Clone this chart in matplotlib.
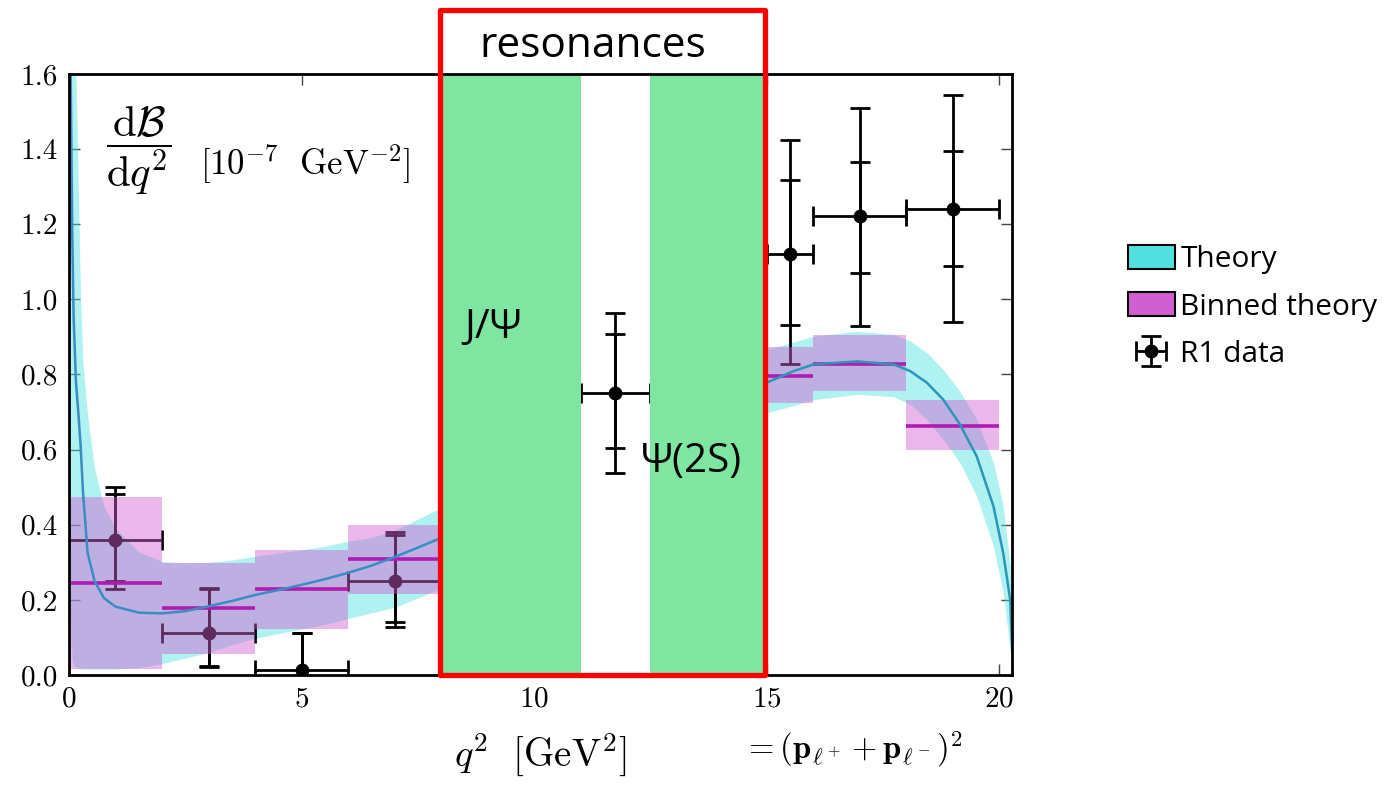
import matplotlib
matplotlib.use("Agg")
import matplotlib.pyplot as plt
import numpy as np
from matplotlib.patches import Patch, Rectangle

plt.rcParams['font.family'] = 'serif'
plt.rcParams['font.serif'] = ['cmr10']
plt.rcParams['mathtext.fontset'] = 'cm'
plt.rcParams['axes.formatter.use_mathtext'] = True

# theory curve, low q^2 region
th_lo_q2 = [0.02, 0.04, 0.07, 0.10, 0.15, 0.20, 0.25, 0.30, 0.40, 0.55, 0.75, 1.0, 1.5, 2.0,
            2.5, 3.0, 3.5, 4.0, 4.5, 5.0, 5.5, 6.0, 6.5, 7.0, 7.5, 8.0, 8.3]
th_lo_mid = [1.80, 1.55, 1.17, 0.95, 0.78, 0.70, 0.61, 0.49, 0.325, 0.25, 0.205, 0.182, 0.166, 0.164,
             0.170, 0.183, 0.197, 0.213, 0.226, 0.240, 0.255, 0.272, 0.291, 0.314, 0.339, 0.365, 0.38]
th_lo_up = [1.90, 1.80, 1.75, 1.70, 1.60, 1.30, 1.00, 0.83, 0.69, 0.55, 0.45, 0.39, 0.328, 0.302,
            0.298, 0.300, 0.306, 0.316, 0.325, 0.333, 0.343, 0.356, 0.366, 0.385, 0.415, 0.445, 0.46]
th_lo_dn = [0.30, 0.10, 0.04, 0.025, 0.02, 0.018, 0.017, 0.016, 0.016, 0.016, 0.016, 0.016, 0.02, 0.03,
            0.045, 0.06, 0.08, 0.098, 0.11, 0.122, 0.135, 0.15, 0.165, 0.18, 0.205, 0.23, 0.245]

# theory curve, high q^2 region
th_hi_q2 = [14.9, 15.0, 15.58, 16.01, 16.94, 17.73, 18.09, 18.45, 18.8, 19.16, 19.52, 19.88, 20.09, 20.24, 20.3]
th_hi_mid = [0.772, 0.778, 0.809, 0.827, 0.835, 0.827, 0.809, 0.778, 0.733, 0.667, 0.582, 0.449, 0.324, 0.20, 0.005]
th_hi_up = [0.862, 0.867, 0.886, 0.902, 0.915, 0.907, 0.889, 0.858, 0.813, 0.755, 0.68, 0.565, 0.449, 0.289, 0.02]
th_hi_dn = [0.692, 0.698, 0.717, 0.733, 0.747, 0.741, 0.72, 0.68, 0.627, 0.565, 0.476, 0.342, 0.218, 0.067, 0.0]

# binned theory
bin_lo = [0, 2, 4, 6, 15, 16, 18]
bin_hi = [2, 4, 6, 8, 16, 18, 20]
bin_mid = [0.245, 0.178, 0.229, 0.309, 0.797, 0.829, 0.664]
bin_up = [0.475, 0.298, 0.333, 0.400, 0.872, 0.904, 0.731]
bin_dn = [0.016, 0.056, 0.122, 0.216, 0.725, 0.755, 0.600]

# R1 data
d_x = [1, 3, 5, 7, 11.75, 15.5, 17, 19]
d_xerr = [1, 1, 1, 1, 0.75, 0.5, 1, 1]
d_y = [0.359, 0.111, 0.012, 0.251, 0.752, 1.120, 1.221, 1.240]
d_stat_lo = [0.250, 0.024, -0.09, 0.142, 0.603, 0.933, 1.069, 1.090]
d_stat_hi = [0.482, 0.229, 0.111, 0.373, 0.907, 1.317, 1.365, 1.395]
d_tot_lo = [0.229, 0.022, -0.09, 0.129, 0.539, 0.827, 0.928, 0.941]
d_tot_hi = [0.501, 0.231, 0.111, 0.380, 0.965, 1.424, 1.509, 1.544]

# resonance vetoes
res_bands = [(8.0, 11.0), (12.5, 15.0)]
res_box = (7.98, 14.97)

theory_col = '#50e0e0'
binned_col = '#d060d0'

fig = plt.figure(figsize=(13.91, 7.89), dpi=100)
ax = fig.add_axes([0.0496, 0.1445, 0.678, 0.7617])

ax.fill_between(th_lo_q2, th_lo_dn, th_lo_up, color=theory_col, alpha=0.45, lw=0, zorder=2)
ax.fill_between(th_hi_q2, th_hi_dn, th_hi_up, color=theory_col, alpha=0.45, lw=0, zorder=2)

# data sits between the theory band and the binned band
d_y = np.array(d_y)
tot_err = [d_y - np.array(d_tot_lo), np.array(d_tot_hi) - d_y]
stat_err = [d_y - np.array(d_stat_lo), np.array(d_stat_hi) - d_y]
eb = ax.errorbar(d_x, d_y, xerr=d_xerr, yerr=tot_err, fmt='o', color='black', ms=9,
                 elinewidth=2, capsize=7, capthick=2, zorder=2.2, label='R1 data')
ax.errorbar(d_x, d_y, yerr=stat_err, fmt='none', ecolor='black',
            elinewidth=2, capsize=7, capthick=2, zorder=2.2)

widths = np.array(bin_hi) - np.array(bin_lo)
ax.bar(bin_lo, np.array(bin_up) - np.array(bin_dn), width=widths, bottom=bin_dn, align='edge',
       color=binned_col, alpha=0.45, lw=0, zorder=3)
ax.hlines(bin_mid, bin_lo, bin_hi, color='#b01cb0', lw=2.6, zorder=3.2)

ax.plot(th_lo_q2, th_lo_mid, color='#3a8cc4', lw=1.8, zorder=3.5)
ax.plot(th_hi_q2, th_hi_mid, color='#2a96b8', lw=1.8, zorder=3.5)

for a, b in res_bands:
    ax.axvspan(a, b, color='#7ee6a0', lw=0, zorder=4)

ax.add_patch(Rectangle((res_box[0], 0), res_box[1] - res_box[0], 1.77, fill=False,
                       edgecolor='#ff0000', lw=3.8, joinstyle='round', clip_on=False, zorder=6))

ax.set_xlim(0, 20.28)
ax.set_ylim(0, 1.6)
ax.set_xticks([0, 5, 10, 15, 20])
ax.set_yticks(np.arange(0, 1.61, 0.2))
ax.yaxis.set_major_formatter(plt.FormatStrFormatter('%.1f'))
ax.tick_params(direction='in', length=8, width=1, top=True, right=True, labelsize=21, pad=8,
               color='#444444')
for s in ax.spines.values():
    s.set_linewidth(2)
    s.set_zorder(5)

ax.set_xlabel(r'$q^2\ \ [\mathrm{GeV}^2]$', fontsize=28, labelpad=14)

ax.text(1.5, 1.395, r'$\dfrac{\mathrm{d}\mathcal{B}}{\mathrm{d}q^2}$', fontsize=31,
        ha='center', va='center')
ax.text(2.82, 1.36, r'$[10^{-7}\ \ \mathrm{GeV}^{-2}]$', fontsize=25, ha='left', va='center')
fig.text(0.534, 0.05, r'$=(\mathbf{p}_{\ell^+}+\mathbf{p}_{\ell^-})^2$', fontsize=23.5,
         ha='left', va='center')

sans = ['Open Sans', 'DejaVu Sans']
ax.text(11.27, 1.675, 'resonances', fontsize=30.5, family=sans, ha='center', va='center',
        clip_on=False, zorder=7)
ax.text(8.5, 0.925, 'J/Ψ', fontsize=29, family=sans, ha='left', va='center', zorder=7)
ax.text(12.3, 0.567, 'Ψ(2S)', fontsize=29, family=sans, ha='left', va='center', zorder=7)

handles = [Patch(facecolor=theory_col, edgecolor='black', lw=1.5),
           Patch(facecolor=binned_col, edgecolor='black', lw=1.5),
           eb]
leg = fig.legend(handles, ['Theory', 'Binned theory', 'R1 data'], loc='upper left',
                 bbox_to_anchor=(0.8025, 0.705), frameon=False,
                 prop={'family': sans, 'size': 21.5}, handlelength=1.55, handleheight=0.85,
                 handletextpad=0.2, labelspacing=0.62, borderaxespad=0)

fig.savefig('out.png', dpi=100)
